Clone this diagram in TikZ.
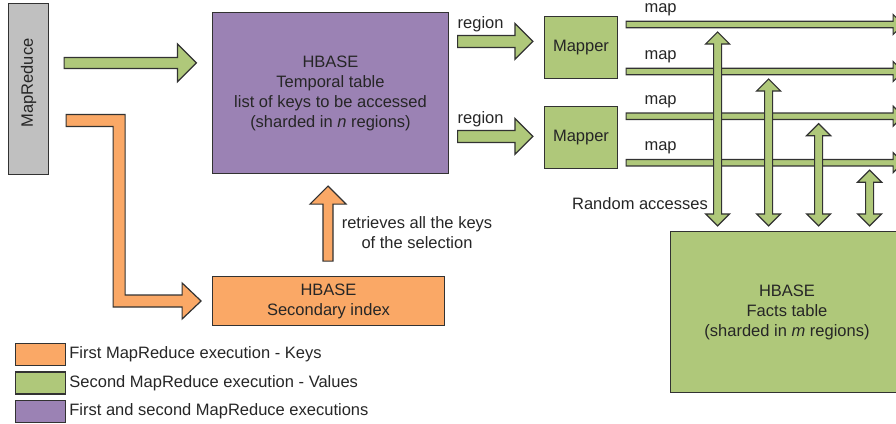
\documentclass[tikz,border=0pt]{standalone}
\usepackage{fontspec}
\setmainfont{Liberation Sans}
\usepackage{graphicx}
\usepackage{xcolor}
\definecolor{keysorange}{RGB}{250,168,102}
\definecolor{valuesgreen}{RGB}{175,200,122}
\definecolor{bothpurple}{RGB}{155,130,180}
\definecolor{jobgray}{RGB}{192,192,192}
\definecolor{edgegray}{RGB}{50,50,50}
\usepackage{tikz}
\usetikzlibrary{shapes,arrows,positioning,calc}

\newcommand{\blockarrow}[5]{%
  \draw[#1] let \p1=(#2), \p2=(#3), \n1={atan2(\y2-\y1,\x2-\x1)}, \n2={veclen(\x2-\x1,\y2-\y1)} in
    [shift={(\p1)}, rotate=\n1]
    (0pt,-#4pt) -- (\n2-#5pt,-#4pt) -- (\n2-#5pt,-#5pt) -- (\n2,0pt) -- (\n2-#5pt,#5pt) -- (\n2-#5pt,#4pt) -- (0pt,#4pt) -- cycle;}
\newcommand{\blockdblarrow}[5]{%
  \draw[#1] let \p1=(#2), \p2=(#3), \n1={atan2(\y2-\y1,\x2-\x1)}, \n2={veclen(\x2-\x1,\y2-\y1)} in
    [shift={(\p1)}, rotate=\n1]
    (0pt,0pt) -- (#5pt,-#5pt) -- (#5pt,-#4pt) -- (\n2-#5pt,-#4pt) -- (\n2-#5pt,-#5pt) -- (\n2,0pt) -- (\n2-#5pt,#5pt) -- (\n2-#5pt,#4pt) -- (#5pt,#4pt) -- (#5pt,#5pt) -- cycle;}

\begin{document}
\begin{tikzpicture}[
    x=1pt, y=-1pt,
    font=\fontsize{16.5}{20}\selectfont,
    box/.style={rectangle, draw=edgegray, line width=1.2pt, align=center, inner sep=0pt, text=black!85},
    job/.style={box, fill=jobgray, minimum width=40pt, minimum height=171pt},
    hbase/.style={box, minimum width=236pt, minimum height=161pt},
    mapper/.style={box, fill=valuesgreen, minimum width=73pt, minimum height=62pt},
    swatch/.style={rectangle, draw=edgegray, line width=1.4pt, minimum width=50pt, minimum height=22pt, inner sep=0pt},
    note/.style={inner sep=0pt, align=center, text=black!85},
    fat/.style={draw=edgegray, line width=1.2pt, line join=miter}
]
\useasboundingbox (0,0) rectangle (896,423);
\clip (0,0) rectangle (896,423);

\node[job] (mr) at (28.5,89) {\rotatebox{90}{\hspace*{12pt}MapReduce}};
\node[hbase, fill=bothpurple] (temporal) at (330.5,93) {HBASE\\Temporal table\\list of keys to be accessed\\(sharded in \textit{n} regions)};
\node[hbase, fill=keysorange, minimum width=232pt, minimum height=49pt, below=102pt of temporal.south west, anchor=north west] (secondary) {HBASE\\Secondary index};
\node[mapper] (mapper1) at (581,47.5) {Mapper};
\node[mapper, below=27pt of mapper1] (mapper2) {Mapper};
\node[hbase, fill=valuesgreen, minimum width=233pt] (facts) at (787,312) {HBASE\\Facts table\\(sharded in \textit{m} regions)};

\coordinate (valstart) at ($(mr.north east)+(15,60)$);
\coordinate (valend) at ($(valstart -| temporal.west)+(-15.5,0)$);
\blockarrow{fat, fill=valuesgreen}{valstart}{valend}{5.5}{19}

\coordinate (keysstart) at ($(mr.east)+(17,31.5)$);
\draw[fat, fill=keysorange] (keysstart) ++(0,-6) -- ++(59,0) -- ++(0,180.5) -- ++(57,0) -- ++(0,-12) -- ++(19,18) -- ++(-19,18) -- ++(0,-12) -- ++(-69,0) -- ++(0,-180.5) -- ++(-47,0) -- cycle;

\coordinate (selbot) at ($(secondary.north)+(-0.5,-15)$);
\coordinate (seltop) at ($(selbot |- temporal.south)+(0,12)$);
\blockarrow{fat, fill=keysorange}{selbot}{seltop}{5}{18}
\node[note] (sellabel) at (417,233) {retrieves all the keys\\of the selection};

\foreach \i/\dy in {1/29.5, 2/124.5} {
  \coordinate (regstart\i) at ($(temporal.north east)+(8.5,\dy)$);
  \coordinate (regend\i) at ($(regstart\i -| mapper1.west)+(-11,0)$);
  \blockarrow{fat, fill=valuesgreen}{regstart\i}{regend\i}{6}{18}
  \node[note] (reglabel\i) at ($(regstart\i)+(23,-17)$) {region};
}

\foreach \i/\m/\dy in {1/mapper1/-23, 2/mapper1/24, 3/mapper2/-21.5, 4/mapper2/25} {
  \coordinate (mapstart\i) at ($(\m.east)+(8,\dy)$);
  \coordinate (mapend\i) at ($(mapstart\i)+(277,0)$);
  \blockarrow{fat, fill=valuesgreen}{mapstart\i}{mapend\i}{3.2}{10}
  \node[note] (maplabel\i) at ($(mapstart\i)+(34.5,-14.5)$) {map};
}

\foreach \i/\dx in {1/91.5, 2/142.5, 3/192.5, 4/243.5} {
  \coordinate (acctop\i) at ($(mapstart\i)+(\dx,7.5)$);
  \coordinate (accbot\i) at ($(acctop\i |- facts.north)+(0,-5)$);
  \blockdblarrow{fat, fill=valuesgreen}{accbot\i}{acctop\i}{4}{12}
}
\node[note] (randlabel) at (640,204) {Random accesses};

\node[swatch, fill=keysorange] (legkeys) at (40.5,354.5) {};
\node[swatch, fill=valuesgreen, below=5pt of legkeys] (legvalues) {};
\node[swatch, fill=bothpurple, below=5pt of legvalues] (legboth) {};
\node[note, right=3pt of legkeys] (legkeystext) {First MapReduce execution - Keys};
\node[note, right=3pt of legvalues] (legvaluestext) {Second MapReduce execution - Values};
\node[note, right=3pt of legboth] (legbothtext) {First and second MapReduce executions};

\end{tikzpicture}
\end{document}
